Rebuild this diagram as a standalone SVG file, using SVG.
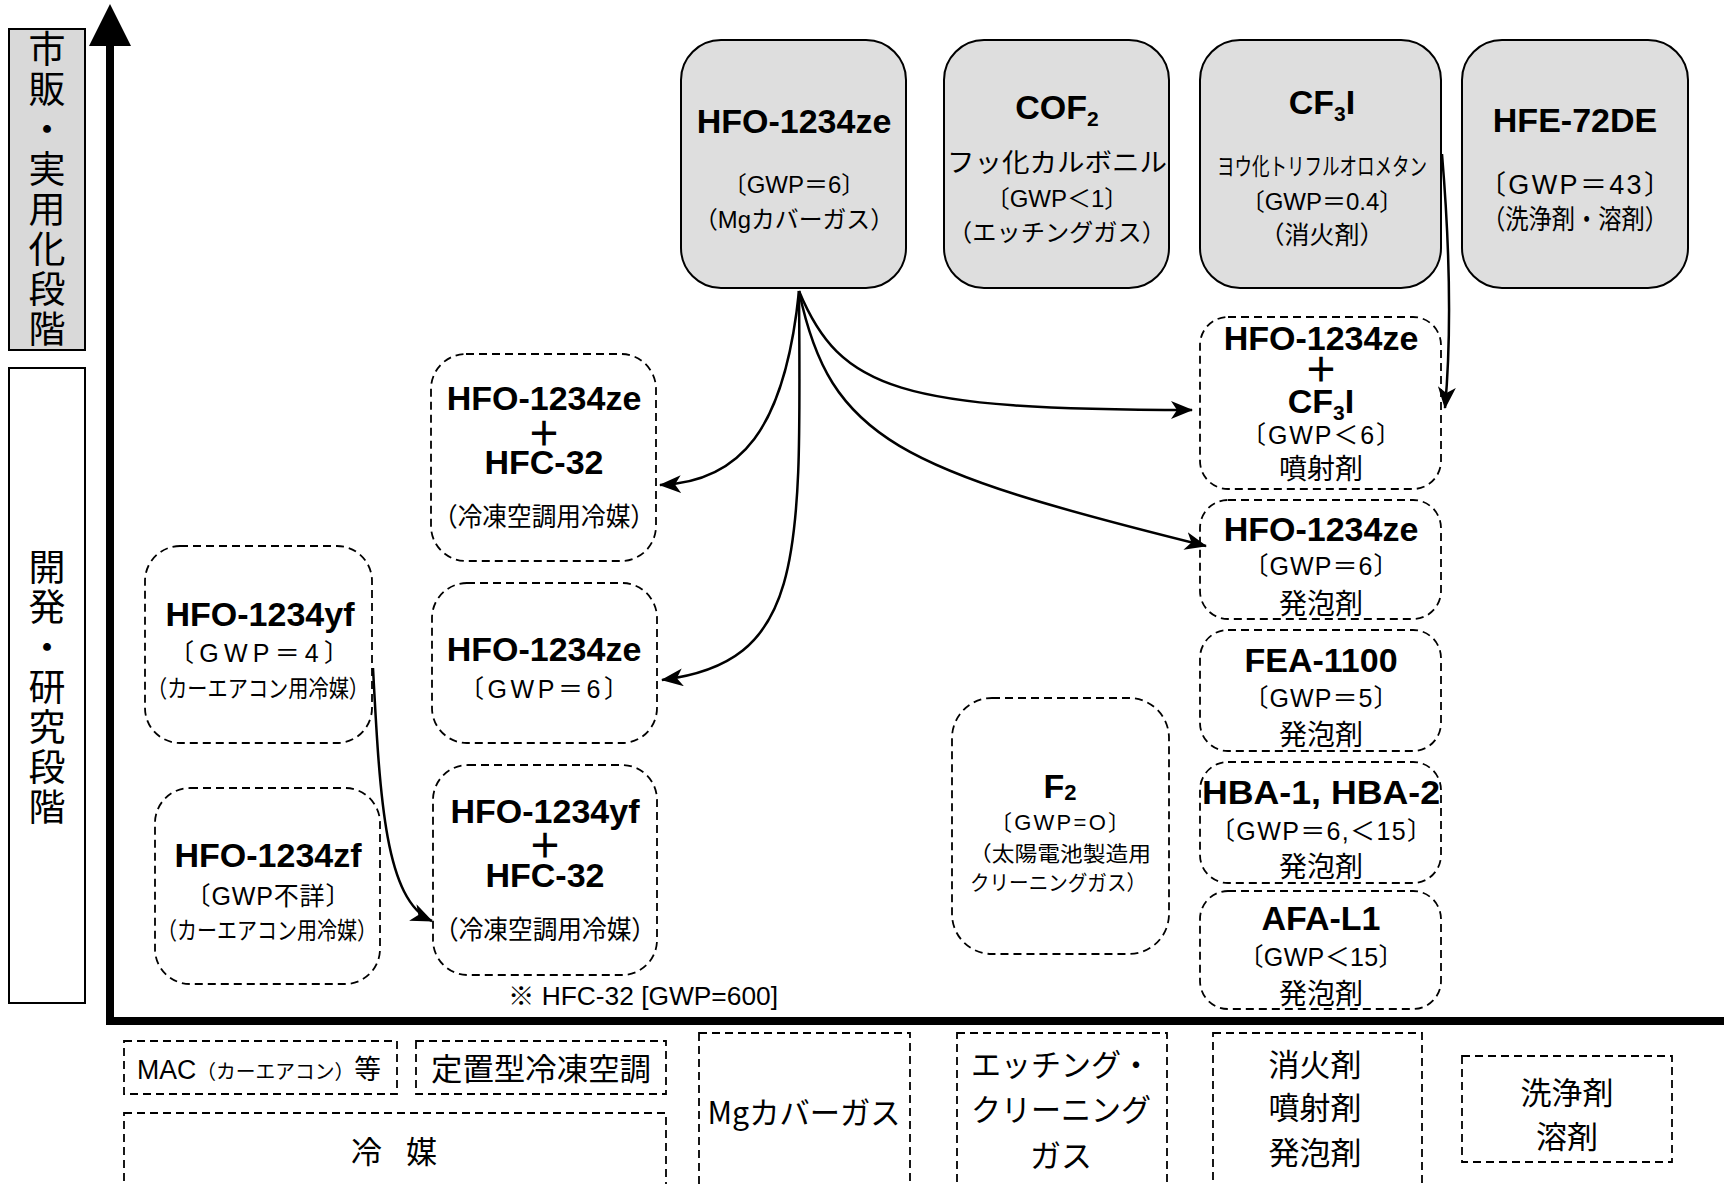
<svg xmlns="http://www.w3.org/2000/svg" width="1724" height="1184" viewBox="0 0 1724 1184">
<defs>
<style>
text{font-family:"Liberation Sans","Noto Sans CJK JP",sans-serif;fill:#000;text-anchor:middle}
.ti{font-weight:bold;font-size:34px}
.s{font-size:24px}
.r{font-size:25px}
.m{font-size:26px}
.k{font-size:28px;font-family:"Noto Sans CJK JP",sans-serif}
.b{font-size:31px;font-family:"Noto Sans CJK JP",sans-serif}
.v{font-size:37px;font-family:"Noto Sans CJK JP",sans-serif;writing-mode:vertical-rl;letter-spacing:3px}
.gray{fill:#dedede;stroke:#000;stroke-width:2}
.dash{fill:none;stroke:#000;stroke-width:1.8;stroke-dasharray:8 5}
.con{fill:none;stroke:#000;stroke-width:2.5;marker-end:url(#ah)}
</style>
<marker id="ah" viewBox="0 0 22 18" refX="21" refY="9" markerWidth="22" markerHeight="18" markerUnits="userSpaceOnUse" orient="auto">
<path d="M0,0 L22,9 L0,18 L6,9 Z" fill="#000"/>
</marker>
</defs>
<rect width="1724" height="1184" fill="#fff"/>

<g id="axes">
<rect x="106" y="40" width="8" height="985" fill="#000"/>
<polygon points="89,46 110,4 131,46" fill="#000"/>
<rect x="106" y="1017" width="1618" height="8" fill="#000"/>
</g>

<g id="stage-market">
<rect x="9" y="29" width="76" height="321" fill="#d9d9d9" stroke="#000" stroke-width="2"/>
<text class="v" x="47" y="190">市販・実用化段階</text>
</g>
<g id="stage-research">
<rect x="9" y="368" width="76" height="635" fill="#fff" stroke="#000" stroke-width="2"/>
<text class="v" x="47" y="688">開発・研究段階</text>
</g>

<g id="top-hfo1234ze">
<rect class="gray" x="681" y="40" width="225" height="248" rx="40"/>
<text class="ti" x="794" y="133">HFO-1234ze</text>
<text class="s" x="794" y="193">〔GWP＝6〕</text>
<text class="s" x="794" y="228" textLength="200" lengthAdjust="spacingAndGlyphs">（Mgカバーガス）</text>
</g>
<g id="top-cof2">
<rect class="gray" x="944" y="40" width="225" height="248" rx="40"/>
<text class="ti" x="1057" y="119">COF<tspan font-size="21" dy="7">2</tspan></text>
<text class="m" x="1057" y="172" textLength="220" lengthAdjust="spacingAndGlyphs">フッ化カルボニル</text>
<text class="s" x="1057" y="207">〔GWP＜1〕</text>
<text class="s" x="1057" y="241" textLength="218" lengthAdjust="spacingAndGlyphs">（エッチングガス）</text>
</g>
<g id="top-cf3i">
<rect class="gray" x="1200" y="40" width="241" height="248" rx="40"/>
<text class="ti" x="1322" y="114">CF<tspan font-size="21" dy="7">3</tspan><tspan dy="-7">I</tspan></text>
<text class="s" x="1322" y="175" textLength="210" lengthAdjust="spacingAndGlyphs">ヨウ化トリフルオロメタン</text>
<text class="s" x="1322" y="210">〔GWP＝0.4〕</text>
<text class="r" x="1322" y="244">（消火剤）</text>
</g>
<g id="top-hfe72de">
<rect class="gray" x="1462" y="40" width="226" height="248" rx="40"/>
<text class="ti" x="1575" y="132">HFE-72DE</text>
<text x="1575" y="194" font-size="27" textLength="192" lengthAdjust="spacing">〔GWP＝43〕</text>
<text x="1575" y="229" font-size="27" textLength="186" lengthAdjust="spacingAndGlyphs">（洗浄剤・溶剤）</text>
</g>

<g id="mix-ze-32">
<rect class="dash" x="431" y="354" width="225" height="207" rx="35"/>
<text class="ti" x="544" y="410">HFO-1234ze</text>
<text class="ti" x="544" y="446" font-size="38">＋</text>
<text class="ti" x="544" y="474">HFC-32</text>
<text class="m" x="544" y="526" textLength="222" lengthAdjust="spacingAndGlyphs">（冷凍空調用冷媒）</text>
</g>
<g id="mid-ze">
<rect class="dash" x="432" y="583" width="225" height="160" rx="35"/>
<text class="ti" x="544" y="661">HFO-1234ze</text>
<text class="r" x="544" y="698" textLength="170" lengthAdjust="spacing">〔GWP＝6〕</text>
</g>
<g id="mix-yf-32">
<rect class="dash" x="433" y="765" width="224" height="210" rx="35"/>
<text class="ti" x="545" y="823">HFO-1234yf</text>
<text class="ti" x="545" y="858" font-size="38">＋</text>
<text class="ti" x="545" y="887">HFC-32</text>
<text class="m" x="545" y="939" textLength="222" lengthAdjust="spacingAndGlyphs">（冷凍空調用冷媒）</text>
</g>
<text id="note" x="643" y="1005" font-size="25" textLength="270" lengthAdjust="spacingAndGlyphs">※ HFC-32 [GWP=600]</text>

<g id="left-yf">
<rect class="dash" x="145" y="546" width="227" height="197" rx="35"/>
<text class="ti" x="260" y="626">HFO-1234yf</text>
<text class="r" x="259" y="662" textLength="180" lengthAdjust="spacing">〔GWP＝4〕</text>
<text class="s" x="258" y="697" textLength="222" lengthAdjust="spacingAndGlyphs">（カーエアコン用冷媒）</text>
</g>
<g id="left-zf">
<rect class="dash" x="155" y="788" width="225" height="196" rx="35"/>
<text class="ti" x="268" y="867">HFO-1234zf</text>
<text class="r" x="268" y="905" textLength="165" lengthAdjust="spacing">〔GWP不詳〕</text>
<text class="s" x="267" y="939" textLength="220" lengthAdjust="spacingAndGlyphs">（カーエアコン用冷媒）</text>
</g>

<g id="f2">
<rect class="dash" x="952" y="698" width="217" height="256" rx="40"/>
<text class="ti" x="1060" y="798">F<tspan font-size="22" dy="2">2</tspan></text>
<text x="1060" y="830" font-size="22" textLength="140" lengthAdjust="spacing">〔GWP=O〕</text>
<text x="1060" y="861" font-size="21" textLength="182" lengthAdjust="spacingAndGlyphs">（太陽電池製造用</text>
<text x="1058" y="890" font-size="21" textLength="176" lengthAdjust="spacingAndGlyphs">クリーニングガス）</text>
</g>

<g id="r-ze-cf3i">
<rect class="dash" x="1200" y="317" width="241" height="172" rx="28"/>
<text class="ti" x="1321" y="350">HFO-1234ze</text>
<text class="ti" x="1321" y="382" font-size="38">＋</text>
<text class="ti" x="1321" y="413">CF<tspan font-size="21" dy="7">3</tspan><tspan dy="-7">I</tspan></text>
<text class="r" x="1321" y="444" textLength="160" lengthAdjust="spacing">〔GWP＜6〕</text>
<text class="k" x="1321" y="479">噴射剤</text>
</g>
<g id="r-ze-foam">
<rect class="dash" x="1200" y="500" width="241" height="119" rx="28"/>
<text class="ti" x="1321" y="541">HFO-1234ze</text>
<text class="r" x="1321" y="575" textLength="155" lengthAdjust="spacing">〔GWP＝6〕</text>
<text class="k" x="1321" y="614">発泡剤</text>
</g>
<g id="r-fea">
<rect class="dash" x="1200" y="630" width="241" height="121" rx="28"/>
<text class="ti" x="1321" y="672">FEA-1100</text>
<text class="r" x="1321" y="707" textLength="155" lengthAdjust="spacing">〔GWP＝5〕</text>
<text class="k" x="1321" y="745">発泡剤</text>
</g>
<g id="r-hba">
<rect class="dash" x="1200" y="762" width="241" height="121" rx="28"/>
<text class="ti" x="1321" y="804" textLength="238" lengthAdjust="spacingAndGlyphs">HBA-1, HBA-2</text>
<text class="r" x="1321" y="840" textLength="222" lengthAdjust="spacing">〔GWP＝6,＜15〕</text>
<text class="k" x="1321" y="877">発泡剤</text>
</g>
<g id="r-afa">
<rect class="dash" x="1200" y="891" width="241" height="118" rx="28"/>
<text class="ti" x="1321" y="930">AFA-L1</text>
<text class="r" x="1321" y="966" textLength="165" lengthAdjust="spacing">〔GWP＜15〕</text>
<text class="k" x="1321" y="1004">発泡剤</text>
</g>

<g id="cat-mac">
<rect class="dash" x="124" y="1041" width="273" height="53"/>
<text x="259" y="1079" font-size="27" textLength="244" lengthAdjust="spacingAndGlyphs">MAC<tspan font-size="20">（カーエアコン）</tspan>等</text>
</g>
<g id="cat-stationary">
<rect class="dash" x="416" y="1041" width="250" height="53"/>
<text class="b" x="541" y="1080" textLength="220" lengthAdjust="spacingAndGlyphs">定置型冷凍空調</text>
</g>
<g id="cat-refrigerant">
<rect class="dash" x="124" y="1113" width="542" height="90"/>
<text class="b" x="394" y="1163" textLength="86" lengthAdjust="spacing">冷 媒</text>
</g>
<g id="cat-mg">
<rect class="dash" x="699" y="1033" width="211" height="170"/>
<text class="b" x="804" y="1124" textLength="193" lengthAdjust="spacingAndGlyphs">Mgカバーガス</text>
</g>
<g id="cat-etching">
<rect class="dash" x="957" y="1033" width="210" height="170"/>
<text class="b" x="1061" y="1076" textLength="180" lengthAdjust="spacingAndGlyphs">エッチング・</text>
<text class="b" x="1061" y="1121" textLength="180" lengthAdjust="spacingAndGlyphs">クリーニング</text>
<text class="b" x="1061" y="1167">ガス</text>
</g>
<g id="cat-fire">
<rect class="dash" x="1213" y="1033" width="209" height="170"/>
<text class="b" x="1315" y="1076">消火剤</text>
<text class="b" x="1315" y="1119">噴射剤</text>
<text class="b" x="1315" y="1164">発泡剤</text>
</g>
<g id="cat-cleaning">
<rect class="dash" x="1462" y="1056" width="210" height="106"/>
<text class="b" x="1567" y="1104">洗浄剤</text>
<text class="b" x="1567" y="1148">溶剤</text>
</g>

<g id="connectors">
<path class="con" d="M799,291 C785,430 740,482 660,485"/>
<path class="con" d="M799,291 C801,560 805,662 662,680"/>
<path class="con" d="M799,291 C840,390 900,410 1192,410"/>
<path class="con" d="M799,291 C830,440 900,470 1206,546"/>
<path class="con" d="M1442,154 C1450,250 1452,330 1445,408"/>
<path class="con" d="M373,668 C380,800 385,900 432,921"/>
</g>
</svg>
